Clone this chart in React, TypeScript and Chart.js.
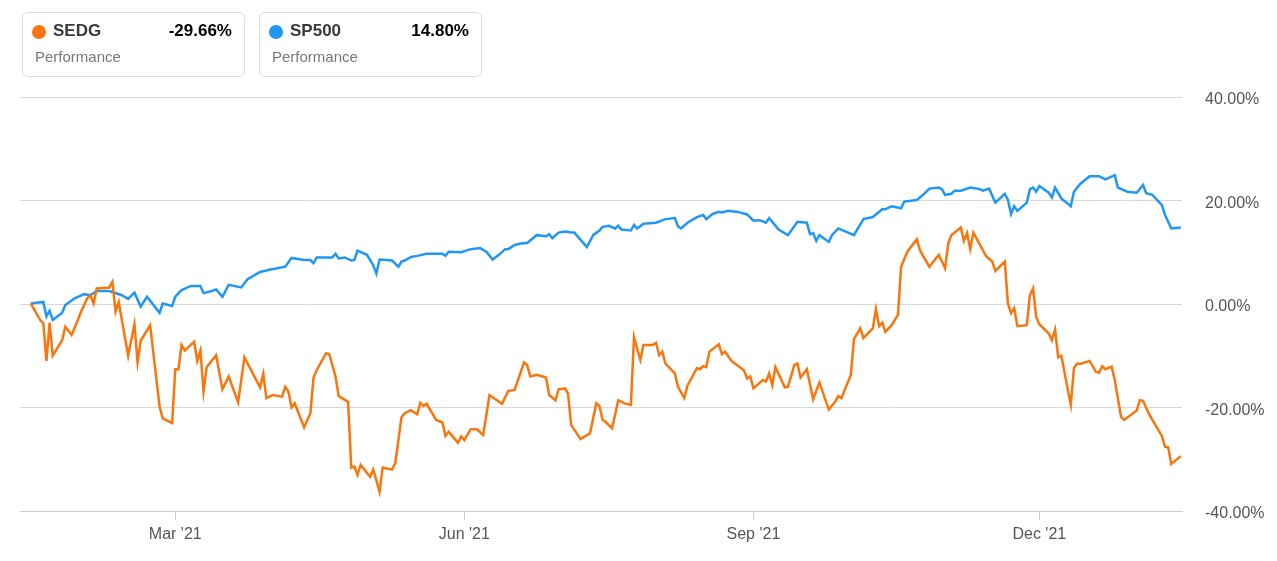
import React, { useEffect, useRef } from "react";
import { Chart, registerables } from "chart.js";

Chart.register(...registerables);

// days since 14 Jan 2021
const sedgDays = [0,3,4,5,6,7,10,11,13,15,16,18,19,20,21,25,26,27,28,31,33,34,35,38,41,42,45,46,47,48,49,52,53,54,55,56,59,61,63,66,68,73,74,75,77,80,81,82,83,84,87,89,90,91,94,95,97,98,101,102,103,104,105,108,109,110,111,112,115,116,118,119,121,123,124,125,126,129,131,132,133,136,137,138,140,142,144,146,150,152,154,157,158,159,161,164,165,167,168,170,171,172,175,178,180,181,182,183,185,187,189,191,192,194,195,198,199,200,201,202,205,206,208,209,212,213,214,215,216,219,220,221,223,227,228,229,230,233,234,235,236,237,240,241,243,244,245,247,249,251,254,256,257,258,261,262,264,265,268,269,270,271,272,274,276,277,279,282,283,284,286,289,291,292,293,296,297,298,299,300,304,306,307,310,311,312,313,314,317,318,319,320,321,324,325,326,327,328,331,332,333,334,337,339,340,341,342,344,345,347,348,352,353,354,356,360,361,362,363,366];
const sedgValues = [0.1,-3.1,-3.7,-11,-3.6,-10,-7,-4.4,-6,-3.1,-1.5,1.1,1.7,0.1,3.0,3.2,4.3,-1.5,0.4,-10,-3.9,-11.3,-7.1,-4.1,-19.8,-22.1,-23,-12.6,-12.6,-7.9,-9,-7.3,-11,-9,-16.9,-12.2,-9.9,-16.5,-14,-19,-10.3,-16.1,-13.5,-18.2,-17.6,-17.9,-16,-16.9,-20,-19.2,-23.8,-21.1,-14.2,-12.8,-9.5,-9.7,-14,-17.8,-18.9,-31.6,-31.4,-33,-31.1,-33.4,-32,-34.1,-36.3,-31.6,-32,-30.8,-21.9,-21.1,-20.5,-21.3,-19.1,-19.7,-19.3,-22.4,-22.9,-25.5,-24.7,-26.8,-25.6,-26.3,-24.2,-24.2,-25.3,-17.6,-19.3,-16.8,-16.6,-11.3,-11.8,-14,-13.7,-14.2,-17.6,-18.6,-16.5,-16.3,-17.3,-23.4,-26.1,-25,-19.2,-19.7,-22.4,-22.8,-24,-18.6,-19.2,-19.5,-6.4,-10.8,-7.9,-7.9,-7.5,-9.9,-9.2,-11.5,-13.4,-16,-18.2,-15.8,-12.4,-12.6,-12,-12.2,-9.2,-7.8,-9.7,-9.2,-11,-12.8,-14.4,-14,-16.3,-14.7,-15,-13.4,-15.7,-12.2,-16.1,-16,-11.8,-11.5,-14.2,-12.6,-18.4,-15.2,-20.4,-18.9,-17.8,-18.2,-13.7,-6.8,-4.7,-6.6,-4.7,-1,-4.3,-3.6,-5.4,-4.1,-2.1,7.2,10.1,12.5,10.4,9.3,7.2,9.5,6.9,11.7,13.3,14.8,12.2,13.7,10.6,13.8,9.3,8.2,6.4,8.2,0.1,-1.8,-0.8,-4.3,-4.1,1.7,3.0,-2.5,-3.9,-5.7,-7,-4.9,-10.3,-10,-19.5,-12.4,-11.5,-11.6,-11,-13.1,-13.3,-12,-12.6,-12.1,-14.7,-21.8,-22.4,-20.6,-18.6,-18.7,-21.4,-25.5,-27.6,-27.7,-30.9,-29.4];

const spDays = [0,4,5,6,7,10,11,14,17,19,21,25,29,31,33,35,37,41,42,45,46,48,51,54,55,57,59,61,63,67,69,73,76,81,83,87,89,90,91,96,97,98,100,102,103,104,107,108,109,110,111,113,115,117,118,119,121,123,126,131,132,133,137,140,143,145,147,149,151,152,154,156,158,161,164,165,166,168,170,172,173,177,179,181,182,183,184,186,187,188,191,192,193,195,197,199,202,205,206,207,209,212,214,215,217,219,220,222,225,228,230,232,234,235,238,241,244,247,248,249,250,251,254,255,257,262,265,268,271,272,274,277,278,282,284,286,289,290,291,293,294,296,298,299,302,303,305,307,310,311,312,313,314,317,318,319,320,321,324,325,326,328,331,332,334,337,340,342,345,346,349,352,354,355,357,360,361,363,366];
const spValues = [0.1,0.4,-2.4,-1.3,-3.1,-1.7,-0.2,1.1,1.9,1.7,2.5,2.5,1.7,1.0,2.2,-0.5,1.4,-1.7,0.1,-0.4,1.4,2.7,3.5,3.5,2.1,2.4,2.8,1.4,3.7,3.2,4.8,6.2,6.6,7.2,8.9,8.5,8.5,7.9,9.0,9.0,9.7,8.8,9.0,8.4,8.5,10.3,9.5,8.5,7.5,5.9,8.6,8.5,8.4,7.2,8.2,8.4,9.1,9.3,9.7,9.7,9.3,10.1,10.0,10.6,10.8,10.1,8.6,9.5,10.6,10.6,11.4,11.7,11.8,13.3,13.1,13.5,12.7,13.8,14.0,13.8,13.8,11.0,13.3,14.2,14.9,15.0,15.1,14.6,15.1,14.4,14.2,15.3,14.6,15.5,15.6,15.7,16.4,16.6,15.0,14.6,15.7,16.8,17.2,16.4,17.4,17.8,17.7,18.0,17.8,17.3,16.1,16.2,15.7,16.6,14.4,13.3,15.9,15.7,13.5,13.7,12.2,13.3,12.0,13.3,14.6,13.3,16.4,16.8,18.3,18.3,18.9,18.5,19.8,20.1,21.1,22.3,22.5,22.2,21.1,21.3,21.9,21.9,22.3,22.5,22.2,21.9,22.3,19.6,21.3,20.1,17.4,18.9,18.0,19.6,22.2,22.5,21.7,22.8,21.5,20.6,22.5,20.4,18.9,21.7,23.2,24.7,24.7,24.1,24.9,22.5,21.7,21.5,23.0,21.4,21.1,19.1,17.2,14.6,14.8];

const tickDays = [46, 138, 230, 321];
const tickLabels = ["Mar '21", "Jun '21", "Sep '21", "Dec '21"];
const yTicks = [-40, -20, 0, 20, 40];

const seriesNames = ["SEDG", "SP500"];
const seriesTotals = ["-29.66%", "14.80%"];
const seriesColors = ["#f7760e", "#2196f3"];

const FONT = "'Liberation Sans', Arial, sans-serif";

export default function App() {
  const ref = useRef<HTMLCanvasElement | null>(null);

  useEffect(() => {
    if (!ref.current) return;
    const chart = new Chart(ref.current, {
      type: "line",
      data: {
        datasets: [
          {
            label: seriesNames[0],
            data: sedgDays.map((d, i) => ({ x: d, y: sedgValues[i] })),
            borderColor: seriesColors[0],
            borderWidth: 2.5,
            pointRadius: 0,
            tension: 0,
            fill: false,
          },
          {
            label: seriesNames[1],
            data: spDays.map((d, i) => ({ x: d, y: spValues[i] })),
            borderColor: seriesColors[1],
            borderWidth: 2.5,
            pointRadius: 0,
            tension: 0,
            fill: false,
          },
        ],
      },
      options: {
        animation: false,
        responsive: false,
        devicePixelRatio: 1,
        layout: { padding: { left: 20, top: 97, right: 0, bottom: 0 } },
        plugins: { legend: { display: false }, tooltip: { enabled: false } },
        scales: {
          x: {
            type: "linear",
            min: -3.42,
            max: 366.4,
            afterFit: (s: any) => {
              s.height = 50;
            },
            afterBuildTicks: (s: any) => {
              s.ticks = tickDays.map((v) => ({ value: v }));
            },
            grid: {
              drawOnChartArea: false,
              drawTicks: true,
              tickLength: 9,
              color: "#cccccc",
            },
            border: { display: true, color: "#cccccc" },
            ticks: {
              autoSkip: false,
              maxRotation: 0,
              padding: 5,
              color: "#555555",
              font: { family: FONT, size: 16 },
              callback: (v: any) => {
                const i = tickDays.indexOf(Number(v));
                return i >= 0 ? tickLabels[i] : "";
              },
            },
          },
          y: {
            position: "right",
            min: -40,
            max: 40,
            afterFit: (s: any) => {
              s.width = 95;
            },
            afterBuildTicks: (s: any) => {
              s.ticks = yTicks.map((v) => ({ value: v }));
            },
            grid: { drawTicks: false, color: "#d9d9d9", lineWidth: 1 },
            border: { display: false },
            ticks: {
              padding: 23,
              labelOffset: 3,
              color: "#555555",
              font: { family: FONT, size: 16 },
              callback: (v: any) => Number(v).toFixed(2) + "%",
            },
          },
        },
      },
    });
    return () => chart.destroy();
  }, []);

  const boxes = [0, 1].map((i) => {
    const left = i === 0 ? 22 : 259;
    return (
      <React.Fragment key={i}>
        <div
          style={{
            position: "absolute",
            left,
            top: 12,
            width: 223,
            height: 65,
            boxSizing: "border-box",
            border: "1px solid #dcdcdc",
            borderRadius: 6,
          }}
        />
        <div
          style={{
            position: "absolute",
            left: left + 10,
            top: 25,
            width: 14,
            height: 14,
            borderRadius: "50%",
            background: seriesColors[i],
          }}
        />
        <div
          style={{
            position: "absolute",
            left: left + 31,
            top: 21,
            lineHeight: "20px",
            fontSize: 17,
            fontWeight: "bold",
            color: "#3a3a3a",
            fontFamily: FONT,
          }}
        >
          {seriesNames[i]}
        </div>
        <div
          style={{
            position: "absolute",
            left: left,
            width: 210,
            textAlign: "right",
            top: 21,
            lineHeight: "20px",
            fontSize: 17,
            fontWeight: "bold",
            color: "#000",
            fontFamily: FONT,
          }}
        >
          {seriesTotals[i]}
        </div>
        <div
          style={{
            position: "absolute",
            left: left + 13,
            top: 47,
            lineHeight: "20px",
            fontSize: 15,
            color: "#777",
            fontFamily: FONT,
          }}
        >
          Performance
        </div>
      </React.Fragment>
    );
  });

  return (
    <div
      style={{
        position: "fixed",
        left: 0,
        top: 0,
        width: 1277,
        height: 561,
        background: "#fff",
        overflow: "hidden",
      }}
    >
      <canvas
        ref={ref}
        width={1277}
        height={561}
        style={{ position: "absolute", left: 0, top: 0, width: 1277, height: 561 }}
      />
      {boxes}
    </div>
  );
}
